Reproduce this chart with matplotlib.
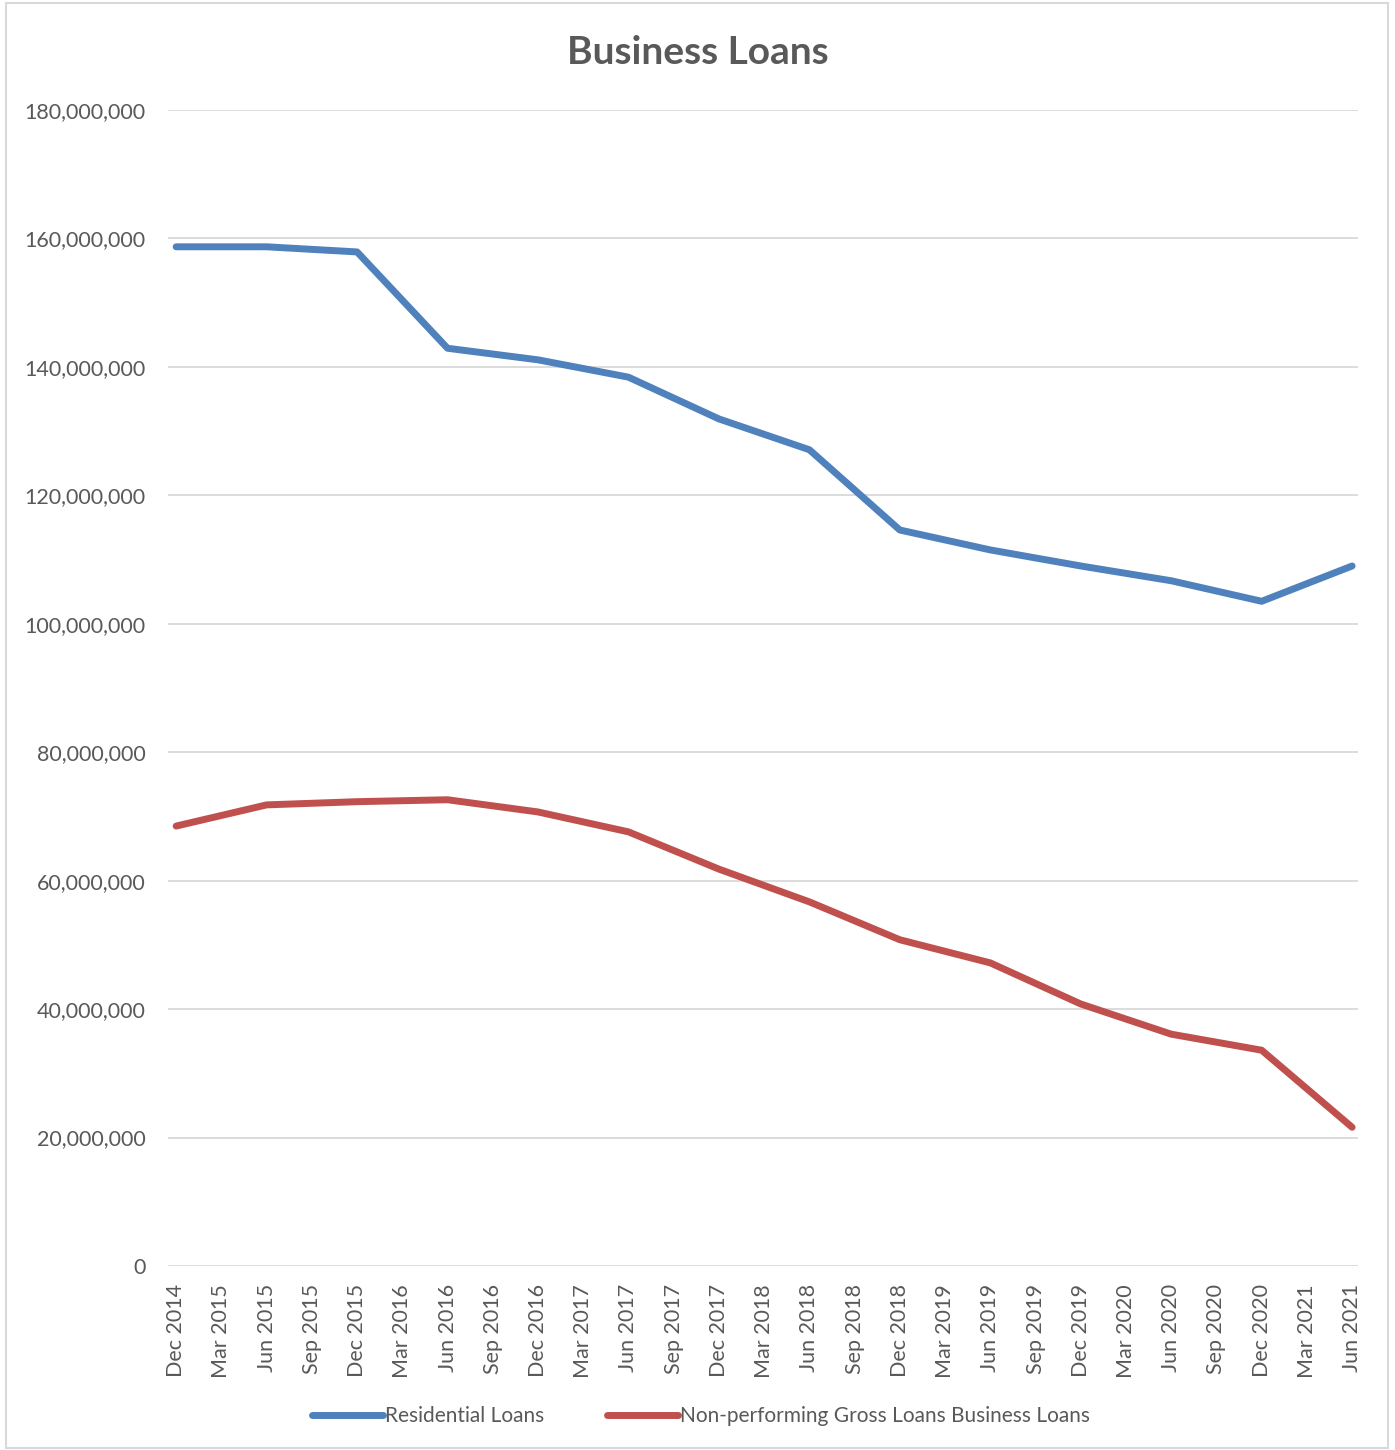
import matplotlib
matplotlib.use("Agg")
import matplotlib.pyplot as plt
from matplotlib.ticker import FuncFormatter
from matplotlib.patches import Rectangle

plt.rcParams['font.family'] = ['Lato', 'DejaVu Sans']

quarters = ["Dec 2014", "Mar 2015", "Jun 2015", "Sep 2015", "Dec 2015", "Mar 2016", "Jun 2016",
            "Sep 2016", "Dec 2016", "Mar 2017", "Jun 2017", "Sep 2017", "Dec 2017", "Mar 2018",
            "Jun 2018", "Sep 2018", "Dec 2018", "Mar 2019", "Jun 2019", "Sep 2019", "Dec 2019",
            "Mar 2020", "Jun 2020", "Sep 2020", "Dec 2020", "Mar 2021", "Jun 2021"]

obs_dates = ["Dec 2014", "Jun 2015", "Dec 2015", "Jun 2016", "Dec 2016", "Jun 2017", "Dec 2017",
             "Jun 2018", "Dec 2018", "Jun 2019", "Dec 2019", "Jun 2020", "Dec 2020", "Jun 2021"]

residential = [158.7e6, 158.7e6, 157.9e6, 142.9e6, 141.1e6, 138.4e6, 131.9e6,
               127.1e6, 114.6e6, 111.5e6, 109.0e6, 106.7e6, 103.5e6, 109.0e6]

nonperforming = [68.5e6, 71.8e6, 72.3e6, 72.6e6, 70.7e6, 67.6e6, 61.8e6,
                 56.7e6, 50.8e6, 47.2e6, 40.8e6, 36.1e6, 33.6e6, 21.6e6]

W, H = 1395, 1450
fig = plt.figure(figsize=(W / 100, H / 100), dpi=100)
fig.patch.set_facecolor("white")
fig.patches.append(Rectangle((6 / W, 2 / H), (1388 - 6) / W, (1447 - 2) / H,
                             transform=fig.transFigure, fill=False,
                             edgecolor="#D9D9D9", linewidth=1.5))

left, right, top, bottom = 168, 1358, 110, 1266
ax = fig.add_axes([left / W, 1 - bottom / H, (right - left) / W, (bottom - top) / H])

xpos = [quarters.index(d) for d in obs_dates]
blue = "#4F81BD"
red = "#C0504D"
ax.plot(xpos, residential, color=blue, lw=5, solid_capstyle="round", solid_joinstyle="round",
        label="Residential Loans")
ax.plot(xpos, nonperforming, color=red, lw=5, solid_capstyle="round", solid_joinstyle="round",
        label="Non-performing Gross Loans Business Loans")

ax.set_ylim(0, 180e6)
ax.set_xlim(-0.18, len(quarters) - 1 + 0.13)
ax.set_yticks(range(0, 180000001, 20000000))
ax.yaxis.set_major_formatter(FuncFormatter(lambda v, p: f"{int(v):,}"))
ax.set_xticks(range(len(quarters)))
ax.set_xticklabels(quarters, rotation=90)

for s in ax.spines.values():
    s.set_visible(False)
ax.grid(axis="y", color="#D9D9D9", lw=1.3)
ax.set_axisbelow(True)
ax.tick_params(axis="both", length=0, colors="#595959")
ax.tick_params(axis="y", pad=16, labelsize=15.5)
ax.tick_params(axis="x", pad=13, labelsize=15.5)

fig.text(698 / W, 1 - 53 / H, "Business Loans", ha="center", va="center",
         fontsize=28, fontweight="bold", color="#595959")

leg = fig.legend(loc="center", bbox_to_anchor=(701 / W, 1 - 1416 / H), ncol=2, frameon=False,
                 fontsize=15, handlelength=3.4, handletextpad=0.1, columnspacing=3.0,
                 labelcolor="#595959")

fig.savefig("out.png", dpi=100)
